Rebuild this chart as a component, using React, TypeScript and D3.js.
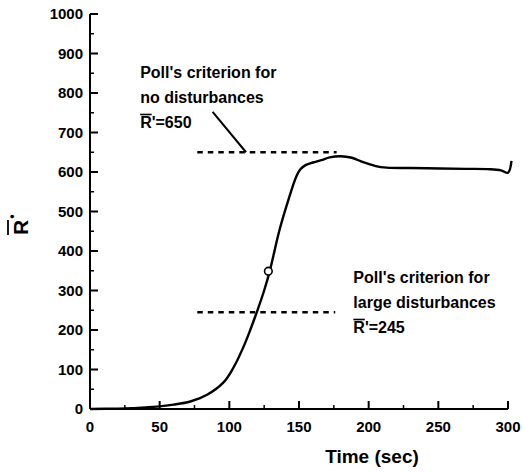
import React from "react";
import * as d3 from "d3";

const timeSec = [0, 20, 30, 40, 48, 60, 72, 84, 96, 103, 110, 115, 120, 125, 129, 136, 142, 148, 151, 155, 160, 166, 172, 180, 188, 196, 205, 213, 230, 251, 270, 287, 295, 300, 302.5];
const rValue = [0, 1, 2, 4, 6, 11, 19, 36, 68, 105, 156, 200, 248, 300, 349, 453, 525, 588, 607, 618, 624, 630, 637, 640, 636, 625, 615, 611, 610, 609, 608, 607, 604, 598, 628];

const markerPoint = { t: 128, r: 349 };

const xTicks = [0, 50, 100, 150, 200, 250, 300];
const xMinorTicks = [25, 75, 125, 175, 225, 275];
const yTicks = [0, 100, 200, 300, 400, 500, 600, 700, 800, 900, 1000];
const yMinorTicks = [50, 150, 250, 350, 450, 550, 650, 750, 850, 950];

const criteria = [
  { value: 650, from: 77, to: 177, lines: ["Poll's criterion for", "no disturbances"], eq: "'=650", tx: 36, ty: 838 },
  { value: 245, from: 77, to: 176, lines: ["Poll's criterion for", "large disturbances"], eq: "'=245", tx: 189, ty: 319 },
];
const leader = { x1: 88, y1: 752, x2: 112, y2: 650 };

const xLabel = "Time (sec)";

const FONT = "'Liberation Sans', Arial, sans-serif";

export default function App() {
  const x = d3.scaleLinear().domain([0, 300]).range([90, 508]);
  const y = d3.scaleLinear().domain([0, 1000]).range([409, 14]);
  const data = timeSec.map((t, i) => [t, rValue[i]] as [number, number]);
  const line = d3
    .line<[number, number]>()
    .x((d) => x(d[0]))
    .y((d) => y(d[1]))
    .curve(d3.curveCatmullRom.alpha(0.5));

  return (
    <svg
      width={523}
      height={472}
      style={{ position: "absolute", left: 0, top: 0, background: "#fff" }}
      fontFamily={FONT}
    >
      {/* axes */}
      <line x1={x(0)} x2={x(0)} y1={y(0)} y2={y(1000)} stroke="#000" strokeWidth={2} />
      <line x1={x(0)} x2={x(300)} y1={y(0)} y2={y(0)} stroke="#000" strokeWidth={2} />
      {yTicks.map((v) => (
        <g key={"y" + v}>
          {v > 0 && <line x1={x(0)} x2={x(0) + 8} y1={y(v)} y2={y(v)} stroke="#000" strokeWidth={2} />}
          <text x={83} y={y(v)} dy="0.36em" textAnchor="end" fontSize={15} fontWeight="bold">
            {v}
          </text>
        </g>
      ))}
      {yMinorTicks.map((v) => (
        <line key={"ym" + v} x1={x(0)} x2={x(0) + 4} y1={y(v)} y2={y(v)} stroke="#000" strokeWidth={1.5} />
      ))}
      {xTicks.map((v) => (
        <g key={"x" + v}>
          {v > 0 && <line x1={x(v)} x2={x(v)} y1={y(0)} y2={y(0) - 8} stroke="#000" strokeWidth={2} />}
          <text x={x(v)} y={432} textAnchor="middle" fontSize={15} fontWeight="bold">
            {v}
          </text>
        </g>
      ))}
      {xMinorTicks.map((v) => (
        <line key={"xm" + v} x1={x(v)} x2={x(v)} y1={y(0)} y2={y(0) - 4} stroke="#000" strokeWidth={1.5} />
      ))}

      {/* axis labels */}
      <text x={372} y={463} textAnchor="middle" fontSize={19} fontWeight="bold">
        {xLabel}
      </text>
      <g transform="translate(28,235) rotate(-90)">
        <line x1={0} x2={15} y1={-20} y2={-20} stroke="#000" strokeWidth={1.8} />
        <text x={0} y={0} fontSize={21} fontWeight="bold">
          R
          <tspan fontSize={13} dx={1} dy={-12}>
            •
          </tspan>
        </text>
      </g>

      {/* criteria */}
      {criteria.map((c, i) => (
        <g key={"c" + i}>
          <line
            x1={x(c.from)}
            x2={x(c.to)}
            y1={y(c.value)}
            y2={y(c.value)}
            stroke="#000"
            strokeWidth={2.4}
            strokeDasharray="5.5 5"
          />
          {c.lines.map((s, j) => (
            <text key={j} x={x(c.tx)} y={y(c.ty) + j * 25} fontSize={16} fontWeight="bold">
              {s}
            </text>
          ))}
          <line
            x1={x(c.tx)}
            x2={x(c.tx) + 11.5}
            y1={y(c.ty) + 50 - 13.5}
            y2={y(c.ty) + 50 - 13.5}
            stroke="#000"
            strokeWidth={1.6}
          />
          <text x={x(c.tx)} y={y(c.ty) + 50} fontSize={16} fontWeight="bold">
            R{c.eq}
          </text>
        </g>
      ))}
      <line x1={x(leader.x1)} y1={y(leader.y1)} x2={x(leader.x2)} y2={y(leader.y2)} stroke="#000" strokeWidth={2} />

      {/* curve */}
      <path d={line(data) || ""} fill="none" stroke="#000" strokeWidth={2.4} strokeLinejoin="round" />
      <circle cx={x(markerPoint.t)} cy={y(markerPoint.r)} r={3.8} fill="#fff" stroke="#000" strokeWidth={1.6} />
    </svg>
  );
}
